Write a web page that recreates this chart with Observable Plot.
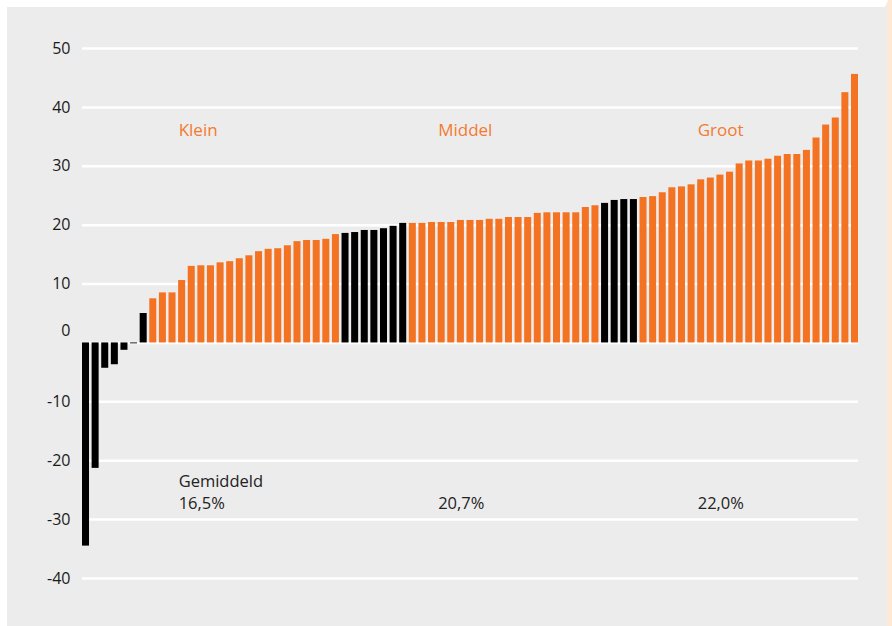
<!DOCTYPE html>
<html>
<head>
<meta charset="utf-8">
<script src="https://cdn.jsdelivr.net/npm/d3@7"></script>
<script src="https://cdn.jsdelivr.net/npm/@observablehq/plot@0.6"></script>
<style>
  html, body { margin: 0; padding: 0; background: #ffffff; }
  #wrap { position: relative; width: 892px; height: 626px; overflow: hidden; background: #ffffff; }
  #peach { position: absolute; left: 875px; top: -5px; width: 300px; height: 700px; background: #fde9d6; border-top-left-radius: 20px 90px; }
  #panel { position: absolute; left: 7px; top: 7px; width: 880px; height: 640px; background: #ececec; }
  #chart { position: absolute; left: 0; top: 0; }
</style>
</head>
<body>
<div id="wrap">
  <div id="peach"></div>
  <div id="panel"></div>
  <div id="chart"></div>
</div>
<script>
// Values per bar, sorted ascending (81 bars)
const values = [
  -34.5, -21.3, -4.3, -3.7, -1.25, -0.15, 5.0,
  7.5, 8.5, 8.5, 10.6, 13.0, 13.1, 13.1, 13.6, 13.8, 14.3, 14.8, 15.5, 15.9, 16.0,
  16.5, 17.2, 17.4, 17.4, 17.6, 18.4,
  18.6, 18.75, 19.1, 19.1, 19.4, 19.8, 20.3,
  20.3, 20.3, 20.45, 20.45, 20.45, 20.8, 20.8, 20.8, 21.0, 21.0, 21.3, 21.3, 21.3,
  22.0, 22.1, 22.1, 22.1, 22.1, 23.0, 23.3,
  23.7, 24.2, 24.35, 24.35,
  24.7, 24.85, 25.5, 26.35, 26.5, 26.85, 27.7, 28.0, 28.5, 29.0, 30.4, 30.9, 30.9,
  31.2, 31.7, 32.0, 32.0, 32.7, 34.8, 37.0, 38.2, 42.5, 45.6
];
// Bar ranks (1-based) drawn in black
const blackRanks = [1, 2, 3, 4, 5, 6, 7, 28, 29, 30, 31, 32, 33, 34, 55, 56, 57, 58];

// Group labels
const groupNames = ["Klein", "Middel", "Groot"];
const groupStartRank = [11, 38, 65];
const averages = ["16,5%", "20,7%", "22,0%"];
const averageTitle = "Gemiddeld";

const yTicks = [50, 40, 30, 20, 10, 0, -10, -20, -30, -40];

const bars = values.map((v, i) => ({rank: i + 1, value: v, black: blackRanks.includes(i + 1)}));
const groups = groupNames.map((g, i) => ({name: g, rank: groupStartRank[i], avg: averages[i]}));

const font = "'Open Sans', Lato, sans-serif";

const chart = Plot.plot({
  width: 892,
  height: 626,
  marginLeft: 82,
  marginRight: 34,
  marginTop: 48,
  marginBottom: 48,
  style: {background: "transparent", fontFamily: font, overflow: "visible"},
  x: {type: "band", domain: bars.map(d => d.rank), paddingInner: 0.27, paddingOuter: 0, axis: null},
  y: {domain: [-40, 50], axis: null},
  marks: [
    Plot.ruleY(yTicks, {stroke: "#ffffff", strokeWidth: 2.5}),
    Plot.barY(bars, {x: "rank", y: "value", fill: d => d.black ? "#000000" : "#f47323"}),
    Plot.text(yTicks.filter(t => t !== 0), {y: d => d, text: d => String(d), frameAnchor: "left", textAnchor: "end", dx: -12, fontSize: 16, fill: "#1a1a1a"}),
    Plot.text(yTicks.filter(t => t === 0), {y: d => d, text: d => String(d), frameAnchor: "left", textAnchor: "end", dx: -12, dy: -12, fontSize: 16, fill: "#1a1a1a"}),
    Plot.text(groups, {x: "rank", y: 36, text: "name", textAnchor: "start", dx: -3.5, fontSize: 17, fill: "#f47a30"}),
    Plot.text(groups.slice(0, 1), {x: "rank", y: -23.5, text: () => averageTitle, textAnchor: "start", dx: -3.5, fontSize: 16.5, fill: "#222"}),
    Plot.text(groups, {x: "rank", y: -27.3, text: "avg", textAnchor: "start", dx: -3.5, fontSize: 16.5, fill: "#222"})
  ]
});
document.getElementById("chart").appendChild(chart);
</script>
</body>
</html>
